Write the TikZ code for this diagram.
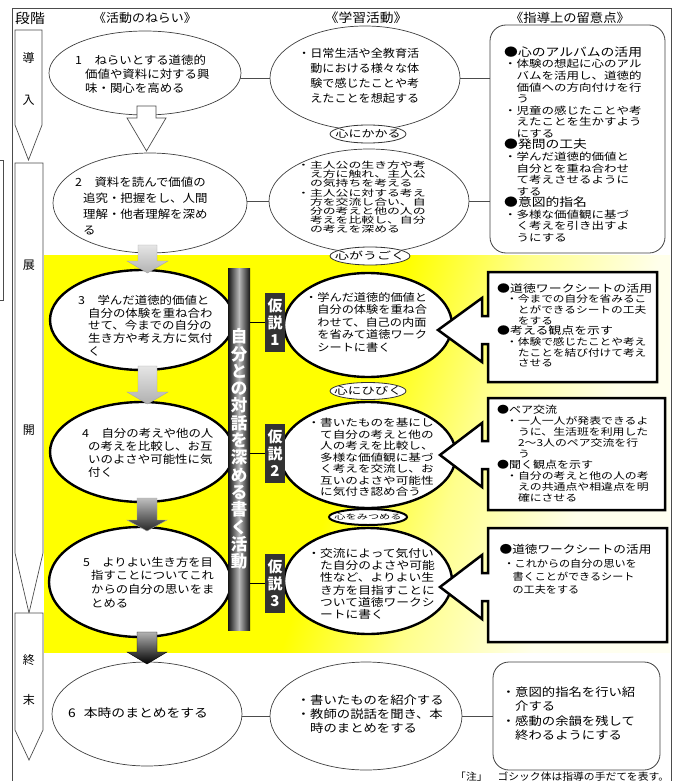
\documentclass[tikz,border=0pt]{standalone}
\usepackage{fontspec}
\setmainfont{Noto Sans CJK JP}
\usetikzlibrary{shapes.geometric}
\newcommand{\jf}[3]{\fontspec[FakeStretch=#3]{Noto Sans CJK JP}\fontsize{#1}{#2}\selectfont}
\pgfdeclarelayer{bg}
\pgfsetlayers{bg,main}
\pgfdeclarehorizontalshading{yfade}{100bp}{color(0bp)=(yellow);color(49bp)=(yellow);color(59bp)=(yellow!45!white);color(70bp)=(yellow!8!white);color(100bp)=(white)}
\begin{document}
\begin{tikzpicture}[x=1pt,y=-1pt,
  ell/.style={ellipse,draw=black!75,line width=0.7pt,fill=white,inner sep=0pt},
  ellT/.style={ellipse,draw=black,line width=2.4pt,fill=white,inner sep=0pt},
  lab/.style={ellipse,draw=black!80,line width=0.8pt,fill=white,inner sep=0pt},
  labT/.style={ellipse,draw=black,line width=2pt,fill=white,inner sep=0pt},
  txt/.style={anchor=north west,inner sep=0pt,align=left},
  ctxt/.style={inner sep=0pt},
  conn/.style={draw=black!70,line width=0.7pt},
  connT/.style={draw=black,line width=1.8pt},
  frame/.style={draw=black!70,line width=0.8pt},
  stagebox/.style={draw=black!70,line width=0.7pt,fill=white},
  stlab/.style={inner sep=0pt,font=\jf{12}{12}{1}},
  rbox/.style={rectangle,rounded corners=16pt,draw=black!75,line width=0.8pt,fill=white},
  callout/.style={draw=black,line width=2.5pt,fill=white,line join=miter},
  kbox/.style={rectangle,fill=black!80,text=white,minimum width=20pt,minimum height=59pt,inner sep=0pt,align=center,font=\jf{15}{17}{1}\bfseries},
  barbox/.style={rectangle,minimum width=22pt,minimum height=362pt,inner sep=0pt,left color=black!92,right color=black!92,middle color=gray!55,text=white,align=center,font=\jf{16.5}{17.3}{1}\bfseries},
  hollow/.style={draw=black!70,line width=0.7pt,fill=white},
  garrow/.style={draw=gray!70,line width=0.4pt}
]
\useasboundingbox (0,0) rectangle (675,781);

% frame
\draw[frame] (12,781) -- (12,8) -- (671,8) -- (671,781);
\draw[frame] (0,160) -- (3,160) -- (3,300) -- (0,300);

% headers
\node[inner sep=0pt,anchor=west,font=\jf{13.5}{13.5}{1.1}] (H0) at (15,18) {段階};
\node[ctxt,font=\jf{12}{12}{1.08}] (H1) at (145,18) {《活動のねらい》};
\node[ctxt,font=\jf{12.5}{12.5}{1.1}] (H2) at (366,18) {《学習活動》};
\node[ctxt,font=\jf{12.2}{12.2}{1.09}] (H3) at (570,18) {《指導上の留意点》};

% stage arrows
\draw[stagebox] (15,30) -- (42,30) -- (42,125) -- (28.5,160) -- (15,125) -- cycle;
\draw[stagebox] (15,163) -- (43,163) -- (43,553) -- (29,613) -- (15,553) -- cycle;
\draw[stagebox] (15,613) -- (43,613) -- (43,730) -- (29,760) -- (15,730) -- cycle;
\node[stlab] (s1) at (28.5,58) {導};
\node[stlab] (s2) at (28.5,100) {入};
\node[stlab] (s3) at (29,265) {展};
\node[stlab] (s4) at (29,430) {開};
\node[stlab] (s5) at (29,660) {終};
\node[stlab] (s6) at (29,700) {末};

% left column ellipses
\node[ell,minimum width=192pt,minimum height=84pt] (E1) at (145,73) {};
\node[ell,minimum width=194pt,minimum height=100pt] (E2) at (150,203) {};
\node[ellT,minimum width=184pt,minimum height=100pt] (E3) at (142,320) {};
\node[ellT,minimum width=184pt,minimum height=100pt] (E4) at (142,452) {};
\node[ellT,minimum width=182pt,minimum height=110pt] (E5) at (140,582) {};
\node[ell,minimum width=190pt,minimum height=104pt] (E6) at (147,714) {};

% middle column ellipses
\node[ell,minimum width=190pt,minimum height=104pt] (C1) at (365,78) {};
\node[ell,minimum width=200pt,minimum height=104pt] (C2) at (369,201) {};
\node[ellT,minimum width=168pt,minimum height=104pt] (C3) at (368,325) {};
\node[ellT,minimum width=176pt,minimum height=106pt] (C4) at (368,455) {};
\node[ellT,minimum width=168pt,minimum height=106pt] (C5) at (368,581) {};
\node[ell,minimum width=192pt,minimum height=108pt] (C6) at (366,716) {};

% small label ellipses
\node[lab,minimum width=76pt,minimum height=18pt] (L1) at (368,134) {};
\node[ctxt,font=\jf{10}{10}{1.3}] (L1t) at (L1) {心にかかる};
\node[lab,minimum width=80pt,minimum height=18pt] (L2) at (370,256) {};
\node[ctxt,font=\jf{10}{10}{1.4}] (L2t) at (L2) {心がうごく};
\node[lab,minimum width=76pt,minimum height=17pt] (L3) at (368,391) {};
\node[ctxt,font=\jf{10}{10}{1.35}] (L3t) at (L3) {心にひびく};
\node[labT,minimum width=78pt,minimum height=16pt] (L4) at (368,517) {};
\node[ctxt,font=\jf{7}{7}{1.6}] (L4t) at (L4) {心をみつめる};

% right column boxes
\node[rbox,minimum width=175pt,minimum height=228pt] (R1) at (577.5,139) {};
\node[rbox,minimum width=167pt,minimum height=108pt] (R6) at (576.5,716) {};
\draw[callout] (488,272) -- (657,272) -- (657,382) -- (488,382) -- (488,344) -- (482,344) -- (482,362) -- (438,330) -- (482,298) -- (482,316) -- (488,316) -- cycle;
\draw[callout] (488,398) -- (665,398) -- (665,510) -- (488,510) -- (488,469) -- (482,469) -- (482,487) -- (440,455) -- (482,423) -- (482,441) -- (488,441) -- cycle;
\draw[callout] (488,528) -- (667,528) -- (667,642) -- (488,642) -- (488,601) -- (482,601) -- (482,619) -- (440,587) -- (482,555) -- (482,573) -- (488,573) -- cycle;

% vertical bar and hypothesis boxes
\node[barbox] (BAR) at (239,449) {自\\分\\と\\の\\対\\話\\を\\深\\め\\る\\書\\く\\活\\動};
\node[kbox] (K1) at (275,322.5) {仮\\説\\1};
\node[kbox] (K2) at (275,453.5) {仮\\説\\2};
\node[kbox] (K3) at (275,583.5) {仮\\説\\3};

% texts, left column
\node[txt,font=\jf{11.3}{14}{1.1}] (T1) at (85,54.7) {\hspace*{-10pt}1　ねらいとする道徳的\\価値や資料に対する興\\味・関心を高める};
\node[txt,font=\jf{11.3}{16}{1.1}] (T2) at (83,176.7) {\hspace*{-8pt}2　資料を読んで価値の\\追究・把握をし、人間\\理解・他者理解を深め\\る};
\node[txt,font=\jf{11}{12.8}{1.13}] (T3) at (88,294.8) {\hspace*{-10pt}3　学んだ道徳的価値と\\自分の体験を重ね合わ\\せて、今までの自分の\\生き方や考え方に気付\\く};
\node[txt,font=\jf{11}{13}{1.13}] (T4) at (88,427.8) {\hspace*{-6pt}4　自分の考えや他の人\\の考えを比較し、お互\\いのよさや可能性に気\\付く};
\node[txt,font=\jf{11}{13.6}{1.12}] (T5) at (91,556.8) {\hspace*{-8pt}5　よりよい生き方を目\\指すことについてこれ\\からの自分の思いをま\\とめる};
\node[inner sep=0pt,anchor=west,font=\jf{12}{14}{1.15}] (T6) at (68,713) {6\hspace{8pt}本時のまとめをする};

% texts, middle column
\node[txt,font=\jf{11}{15}{1.1}] (U1) at (298,47.8) {・日常生活や全教育活\\　動における様々な体\\　験で感じたことや考\\　えたことを想起する};
\node[txt,font=\jf{8.8}{9.2}{1.46}] (U2) at (297,160.9) {・主人公の生き方や考\\　え方に触れ、主人公\\　の気持ちを考える\\・主人公に対する考え\\　方を交流し合い、自\\　分の考えと他の人の\\　考えを比較し、自分\\　の考えを深める};
\node[txt,font=\jf{10.6}{12.5}{1.15}] (U3) at (305,292) {・学んだ道徳的価値と\\　自分の体験を重ね合\\　わせて、自己の内面\\　を省みて道徳ワーク\\　シートに書く};
\node[txt,font=\jf{10}{11.5}{1.26}] (U4) at (307.4,418.3) {・書いたものを基にし\\　て自分の考えと他の\\　人の考えを比較し、\\　多様な価値観に基づ\\　く考えを交流し、お\\　互いのよさや可能性\\　に気付き認め合う};
\node[txt,font=\jf{10.8}{12.3}{1.18}] (U5) at (307.3,548) {・交流によって気付い\\　た自分のよさや可能\\　性など、よりよい生\\　き方を目指すことに\\　ついて道徳ワークシ\\　ートに書く};
\node[txt,font=\jf{11.5}{14}{1.16}] (U6) at (296.7,694.6) {・書いたものを紹介する\\・教師の説話を聞き、本\\　時のまとめをする};

% texts, right column
\node[txt,font=\jf{10}{11.56}{1.25}] (V1) at (504,46.6) {{\jf{11.5}{11.56}{1.2}●心のアルバムの活用}\\・体験の想起に心のアル\\　バムを活用し、道徳的\\　価値への方向付けを行\\　う\\・児童の感じたことや考\\　えたことを生かすよう\\　にする\\{\jf{11.5}{11.56}{1.2}●発問の工夫}\\・学んだ道徳的価値と\\　自分とを重ね合わせ\\　て考えさせるように\\　する\\{\jf{11.5}{11.56}{1.2}●意図的指名}\\・多様な価値観に基づ\\　く考えを引き出すよ\\　うにする};
\node[txt,font=\jf{9.5}{10.7}{1.23}] (V3) at (497,283) {{\jf{10.5}{10.7}{1.23}●道徳ワークシートの活用}\\\hspace*{9pt}・今までの自分を省みるこ\\\hspace*{9pt}　とができるシートの工夫\\\hspace*{9pt}　をする\\{\jf{10.5}{10.7}{1.23}●考える観点を示す}\\\hspace*{9pt}・体験で感じたことや考え\\\hspace*{9pt}　たことを結び付けて考え\\\hspace*{9pt}　させる};
\node[txt,font=\jf{9.5}{11}{1.25}] (V4) at (497,405) {{\jf{10}{11}{1.2}●ペア交流}\\\hspace*{9pt}・一人一人が発表できるよ\\\hspace*{9pt}　うに、生活班を利用した\\\hspace*{9pt}　2〜3人のペア交流を行\\\hspace*{9pt}　う\\{\jf{10}{11}{1.2}●聞く観点を示す}\\\hspace*{9pt}・自分の考えと他の人の考\\\hspace*{9pt}　えの共通点や相違点を明\\\hspace*{9pt}　確にさせる};
\node[txt,font=\jf{10}{13.3}{1.11}] (V5) at (499.4,544.5) {{\jf{11}{13.3}{1.15}●道徳ワークシートの活用}\\\hspace*{4pt}・これからの自分の思いを\\\hspace*{13pt}書くことができるシート\\\hspace*{13pt}の工夫をする};
\node[txt,font=\jf{11.5}{14.3}{1.16}] (V6) at (501.7,686.6) {・意図的指名を行い紹\\　介する\\・感動の余韻を残して\\　終わるようにする};

% note
\node[inner sep=0pt,anchor=west,font=\jf{10}{10}{1.08}] (NOTE) at (455,777) {「注」\hspace{10pt}ゴシック体は指導の手だてを表す。};

% flow arrows between left ellipses
\draw[hollow] (137,106) -- (156,106) -- (156,118) -- (166,118) -- (146.5,151) -- (127,118) -- (137,118) -- cycle;
\path[garrow,top color=gray!20,bottom color=gray!60] (138,245) -- (157,245) -- (157,261) -- (168,261) -- (147.5,273) -- (127,261) -- (138,261) -- cycle;
\path[garrow,top color=gray!20,bottom color=gray!62] (138,366) -- (157,366) -- (157,392) -- (168,392) -- (147.5,404) -- (127,392) -- (138,392) -- cycle;
\path[garrow,top color=gray!50,bottom color=black!85] (137,498) -- (157,498) -- (157,520) -- (167,520) -- (147,531) -- (127,520) -- (137,520) -- cycle;
\path[garrow,draw=black,top color=gray!60,bottom color=black] (137,632) -- (157,632) -- (157,652) -- (167,652) -- (147,664) -- (127,652) -- (137,652) -- cycle;

% background: yellow area and connectors
\begin{pgfonlayer}{bg}
\shade[shading=yfade,shading angle=-18] (44,255) rectangle (670,652);
\draw[conn] (E1 |- C1) -- (C1);
\draw[conn] (C1) -- (C1 -| R1.west);
\draw[conn] (E2 |- C2) -- (C2);
\draw[conn] (C2) -- (C2 -| R1.west);
\draw[connT] (E3 |- K1) -- (C3 |- K1);
\draw[connT] (E4 |- K2) -- (C4 |- K2);
\draw[connT] (E5 |- K3) -- (C5 |- K3);
\draw[conn] (E6 |- C6) -- (C6);
\draw[conn] (C6) -- (C6 -| R6.west);
\end{pgfonlayer}
\end{tikzpicture}
\end{document}
